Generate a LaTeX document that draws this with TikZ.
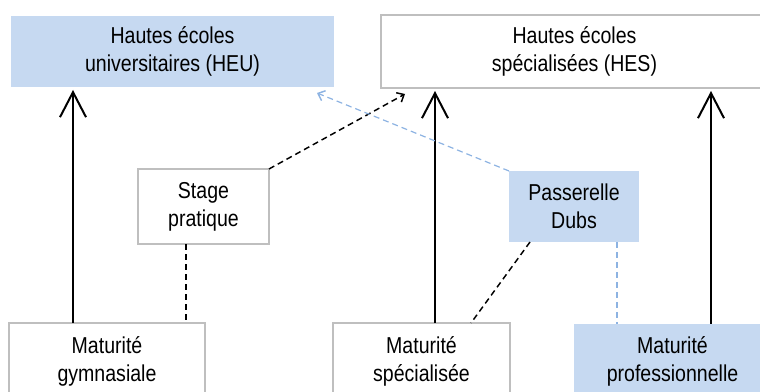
\documentclass[tikz,border=0pt]{standalone}
\usepackage{fontspec}
\setmainfont{Liberation Sans}[FakeStretch=0.85]
\usetikzlibrary{arrows.meta,calc}
\definecolor{boxblue}{HTML}{C6D9F1}
\definecolor{boxgrey}{HTML}{BFBFBF}
\definecolor{dashblue}{HTML}{8DB3E2}
\tikzset{
  lbl/.style={font=\fontsize{17.25pt}{21pt}\selectfont, align=center, inner sep=0pt, outer sep=0pt},
  bluebox/.style={lbl, fill=boxblue},
  greybox/.style={lbl, draw=boxgrey, line width=1.5pt, fill=white},
  mainarrow/.style={line width=1.5pt, -{Straight Barb[length=18.75pt,width=19.5pt,line width=1.5pt]}},
  blackdash/.style={line width=1.1pt, dash pattern=on 4.5pt off 3pt},
  bluedash/.style={line width=0.9pt, draw=dashblue, dash pattern=on 4.5pt off 3pt},
  smalltip/.style={-{Straight Barb[length=4.5pt,width=8pt,line width=1.1pt]}}
}
\begin{document}
\begin{tikzpicture}[x=0.75pt,y=-0.75pt]
\useasboundingbox (0,0) rectangle (760,392);
\clip (0,0) rectangle (760,392);
% boxes
\node[bluebox, minimum width=242.25pt, minimum height=53.25pt] (heu) at (172.5,51.5) {Hautes écoles\\universitaires (HEU)};
\node[greybox, minimum width=290.25pt, minimum height=54.75pt] (hes) at (574.5,51.5) {Hautes écoles\\spécialisées (HES)};
\node[greybox, minimum width=98.25pt, minimum height=56.25pt] (stage) at (203.5,206.5) {Stage\\pratique};
\node[bluebox, minimum width=97.5pt, minimum height=53.25pt] (pass) at (574,206.5) {Passerelle\\Dubs};
\node[greybox, minimum width=147pt, minimum height=57pt] (gym) at (107,361) {Maturité\\gymnasiale};
\node[greybox, minimum width=132.75pt, minimum height=57pt] (spec) at (421.5,361) {Maturité\\spécialisée};
\node[bluebox, minimum width=147.75pt, minimum height=57pt] (prof) at (672.5,361.5) {Maturité\\professionnelle};
% helper coordinates
\coordinate (xa) at (73,0);
\coordinate (xb) at (435,0);
\coordinate (xc) at (711,0);
\coordinate (xd) at (186,0);
\coordinate (xe) at (617,0);
\coordinate (xf) at (471,0);
\coordinate (t1) at (405,94);
\coordinate (t2) at (317,93);
% solid arrows
\draw[mainarrow, shorten >=2.25pt] (gym.north -| xa) -- (heu.south -| xa);
\draw[mainarrow, shorten >=2.25pt] (spec.north -| xb) -- (hes.south -| xb);
\draw[mainarrow, shorten >=2.25pt] (prof.north -| xc) -- (hes.south -| xc);
% dashed connections
\draw[blackdash] (stage.south -| xd) -- (gym.north -| xd);
\draw[blackdash, smalltip] (stage.north east) -- (t1);
\draw[bluedash, smalltip] (pass.north west) -- (t2);
\draw[blackdash] ($(pass.south west)+(21,0)$) -- (spec.north -| xf);
\draw[bluedash] (pass.south -| xe) -- (prof.north -| xe);
\end{tikzpicture}
\end{document}
